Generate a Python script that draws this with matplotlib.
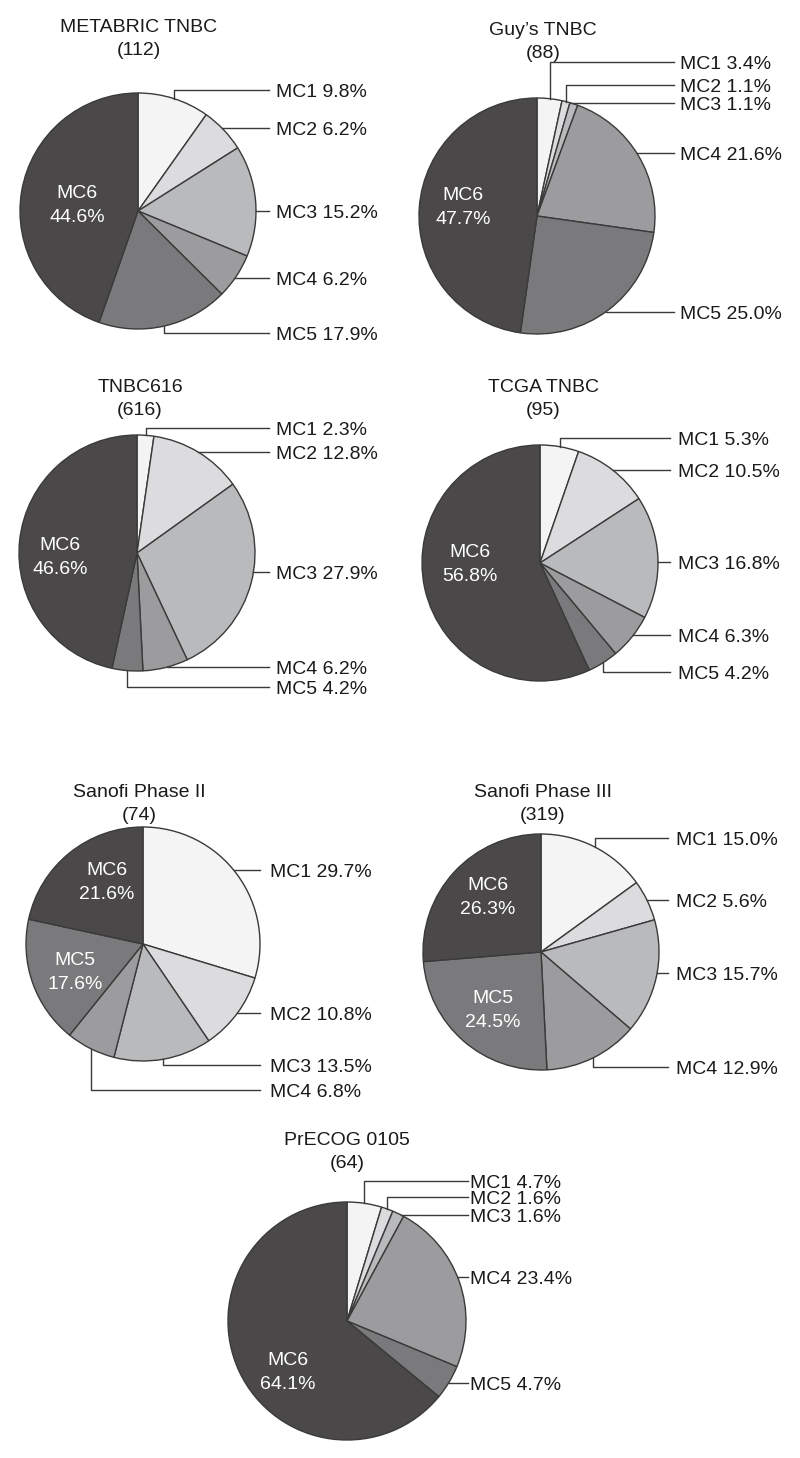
import numpy as np
import matplotlib
matplotlib.use("Agg")
import matplotlib.pyplot as plt

plt.rcParams["font.family"] = ["Liberation Sans", "DejaVu Sans"]

W, H = 800, 1458

clusters = ["MC1", "MC2", "MC3", "MC4", "MC5", "MC6"]
colors = ["#f4f4f5", "#dcdcde", "#b9babc", "#9c9c9e", "#7a797b", "#4b4849"]

titles = ["METABRIC TNBC", "Guy\u2019s TNBC", "TNBC616", "TCGA TNBC",
          "Sanofi Phase II", "Sanofi Phase III", "PrECOG 0105"]
sizes = [112, 88, 616, 95, 74, 319, 64]

metabric = [9.8, 6.2, 15.2, 6.2, 17.9, 44.6]
guys = [3.4, 1.1, 1.1, 21.6, 25.0, 47.7]
tnbc616 = [2.3, 12.8, 27.9, 6.2, 4.2, 46.6]
tcga = [5.3, 10.5, 16.8, 6.3, 4.2, 56.8]
sanofi2 = [29.7, 10.8, 13.5, 6.8, 17.6, 21.6]
sanofi3 = [15.0, 5.6, 15.7, 12.9, 24.5, 26.3]
precog = [4.7, 1.6, 1.6, 23.4, 4.7, 64.1]
series = [metabric, guys, tnbc616, tcga, sanofi2, sanofi3, precog]

# layout in pixels from the top-left corner
centers = [(138, 211), (537, 216), (137, 553), (540, 563),
           (143, 944), (541, 952), (347, 1321)]
radii = [118, 118, 118, 118, 117, 118, 119]
title_pos = [(139, 25), (543, 28), (140, 385), (543, 385),
             (139, 790), (543, 790), (347, 1138)]
label_x = [276, 680, 276, 678, 270, 676, 470]
line_gap = [7, 6, 7, 8, 10, 8, 2]
label_y = [
    [90, 128, 211, 278, 333],
    [62, 85, 103, 153, 312],
    [428, 452, 572, 667, 687],
    [438, 470, 562, 635, 672],
    [870, 1013, 1065, 1090],
    [838, 900, 973, 1067],
    [1181, 1197, 1215, 1277, 1383],
]
inside_pos = [
    {5: (77, 203)},
    {5: (463, 205)},
    {5: (60, 555)},
    {5: (470, 562)},
    {4: (75, 970), 5: (107, 880)},
    {4: (493, 1008), 5: (488, 895)},
    {5: (288, 1370)},
]

text_color = "#1a1a1a"
line_color = "#3a3a3a"
fs = 14

fig = plt.figure(figsize=(W / 100, H / 100), dpi=100)
ax = fig.add_axes([0, 0, 1, 1])


def Y(py):
    return H - py


for k, vals in enumerate(series):
    cx, cy = centers[k]
    r = radii[k]
    wedges, _ = ax.pie(vals, colors=colors, startangle=90, counterclock=False,
                       center=(cx, Y(cy)), radius=r,
                       wedgeprops=dict(edgecolor=line_color, linewidth=1.0))

    tx, ty = title_pos[k]
    ax.text(tx, Y(ty) - 7, titles[k], ha="center", va="baseline",
            fontsize=fs, color=text_color)
    ax.text(tx, Y(ty + 23) - 7, f"({sizes[k]})", ha="center", va="baseline",
            fontsize=fs, color=text_color)

    outside = [i for i in range(len(vals)) if i not in inside_pos[k]]
    end_x = label_x[k] - line_gap[k]
    for i, ly in zip(outside, label_y[k]):
        w = wedges[i]
        t1, t2 = w.theta1, w.theta2
        mid = (t1 + t2) / 2
        yl = Y(ly)
        s = (yl - Y(cy)) / r
        horizontal = False
        if abs(s) < 1:
            th = np.degrees(np.arcsin(s))
            if t1 <= th <= t2 and abs(th - mid) < 10:
                horizontal = True
        if horizontal:
            x0 = cx + r * np.cos(np.radians(th))
            ax.plot([x0, end_x], [yl, yl], color=line_color, lw=1.0)
        else:
            ax0 = cx + r * np.cos(np.radians(mid))
            ay0 = Y(cy) + r * np.sin(np.radians(mid))
            ax.plot([ax0, ax0, end_x], [ay0, yl, yl], color=line_color, lw=1.0)
        ax.text(label_x[k], yl - 7, f"{clusters[i]} {vals[i]:.1f}%",
                ha="left", va="baseline", fontsize=fs, color=text_color)

    for i, (px, py) in inside_pos[k].items():
        ax.text(px, Y(py - 12) - 7, clusters[i], ha="center", va="baseline",
                fontsize=fs, color="white")
        ax.text(px, Y(py + 12) - 7, f"{vals[i]:.1f}%", ha="center",
                va="baseline", fontsize=fs, color="white")

ax.set_xlim(0, W)
ax.set_ylim(0, H)
ax.set_aspect("equal")
ax.axis("off")

fig.savefig("out.png", dpi=100)
